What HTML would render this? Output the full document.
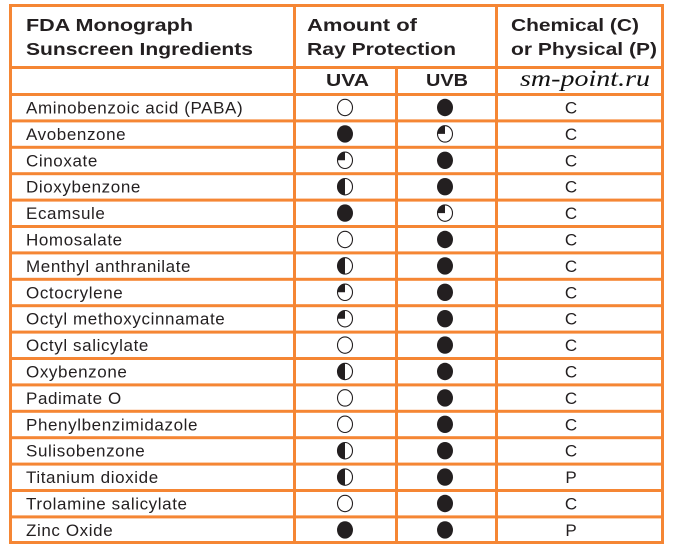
<!DOCTYPE html>
<html><head><meta charset="utf-8"><style>
html,body{margin:0;padding:0;background:#fff;}
svg{display:block;}
.h{font-family:"Liberation Sans",sans-serif;font-weight:bold;font-size:17.5px;fill:#231f20;}
.t{font-family:"Liberation Sans",sans-serif;font-size:17px;letter-spacing:0.6px;fill:#231f20;}
.c{font-family:"Liberation Sans",sans-serif;font-size:17px;fill:#231f20;}
</style></head><body>
<svg width="675" height="552" viewBox="0 0 675 552" xmlns="http://www.w3.org/2000/svg">
<defs>
<g id="e"><ellipse cx="0" cy="0" rx="7.5" ry="8.2" fill="#fff" stroke="#231f20" stroke-width="1.1"/></g>
<g id="f"><ellipse cx="0" cy="0" rx="8" ry="8.7" fill="#231f20"/></g>
<g id="hf"><ellipse cx="0" cy="0" rx="7.5" ry="8.2" fill="#fff" stroke="#231f20" stroke-width="1.1"/><path d="M0,-8.2 A7.5,8.2 0 0 0 0,8.2 Z" fill="#231f20"/></g>
<g id="q"><ellipse cx="0" cy="0" rx="7.5" ry="8.2" fill="#fff" stroke="#231f20" stroke-width="1.1"/><path d="M0,0 L0,-8.2 A7.5,8.2 0 0 0 -7.5,0 Z" fill="#231f20"/></g>
</defs>
<g fill="#f58634">
<rect x="9" y="4" width="655" height="3"/>
<rect x="9" y="66" width="655" height="3"/>
<rect x="9" y="93" width="655" height="3"/>
<rect x="9" y="119.4" width="655" height="3"/>
<rect x="9" y="145.8" width="655" height="3"/>
<rect x="9" y="172.2" width="655" height="3"/>
<rect x="9" y="198.6" width="655" height="3"/>
<rect x="9" y="225" width="655" height="3"/>
<rect x="9" y="251.4" width="655" height="3"/>
<rect x="9" y="277.8" width="655" height="3"/>
<rect x="9" y="304.2" width="655" height="3"/>
<rect x="9" y="330.6" width="655" height="3"/>
<rect x="9" y="357" width="655" height="3"/>
<rect x="9" y="383.4" width="655" height="3"/>
<rect x="9" y="409.8" width="655" height="3"/>
<rect x="9" y="436.2" width="655" height="3"/>
<rect x="9" y="462.6" width="655" height="3"/>
<rect x="9" y="489" width="655" height="3"/>
<rect x="9" y="515.4" width="655" height="3"/>
<rect x="9" y="541" width="655" height="3"/>
<rect x="9" y="4" width="3" height="540"/>
<rect x="661" y="4" width="3" height="540"/>
<rect x="293" y="4" width="3" height="540"/>
<rect x="495" y="4" width="3" height="540"/>
<rect x="395" y="66" width="3" height="478"/>
</g>
<text class="h" x="26" y="31" textLength="167" lengthAdjust="spacingAndGlyphs">FDA Monograph</text>
<text class="h" x="26" y="55" textLength="227" lengthAdjust="spacingAndGlyphs">Sunscreen Ingredients</text>
<text class="h" x="307" y="31" textLength="110" lengthAdjust="spacingAndGlyphs">Amount of</text>
<text class="h" x="307" y="55" textLength="149" lengthAdjust="spacingAndGlyphs">Ray Protection</text>
<text class="h" x="511" y="31" textLength="128" lengthAdjust="spacingAndGlyphs">Chemical (C)</text>
<text class="h" x="511" y="55" textLength="146" lengthAdjust="spacingAndGlyphs">or Physical (P)</text>
<text class="h" x="326" y="86" textLength="43" lengthAdjust="spacingAndGlyphs">UVA</text>
<text class="h" x="426" y="86" textLength="42" lengthAdjust="spacingAndGlyphs">UVB</text>
<text x="520" y="86" textLength="130" lengthAdjust="spacingAndGlyphs" style="font-family:'Liberation Serif',serif;font-style:italic;font-size:23px;fill:#111;">sm-point.ru</text>

<text class="t" x="26" y="113.5">Aminobenzoic acid (PABA)</text>
<text class="t" x="26" y="139.9">Avobenzone</text>
<text class="t" x="26" y="166.3">Cinoxate</text>
<text class="t" x="26" y="192.7">Dioxybenzone</text>
<text class="t" x="26" y="219.1">Ecamsule</text>
<text class="t" x="26" y="245.5">Homosalate</text>
<text class="t" x="26" y="271.9">Menthyl anthranilate</text>
<text class="t" x="26" y="298.3">Octocrylene</text>
<text class="t" x="26" y="324.7">Octyl methoxycinnamate</text>
<text class="t" x="26" y="351.1">Octyl salicylate</text>
<text class="t" x="26" y="377.5">Oxybenzone</text>
<text class="t" x="26" y="403.9">Padimate O</text>
<text class="t" x="26" y="430.3">Phenylbenzimidazole</text>
<text class="t" x="26" y="456.7">Sulisobenzone</text>
<text class="t" x="26" y="483.1">Titanium dioxide</text>
<text class="t" x="26" y="509.5">Trolamine salicylate</text>
<text class="t" x="26" y="535.9">Zinc Oxide</text>

<g class="c" text-anchor="middle">
<text class="c" x="571" y="113.5">C</text>
<text class="c" x="571" y="139.9">C</text>
<text class="c" x="571" y="166.3">C</text>
<text class="c" x="571" y="192.7">C</text>
<text class="c" x="571" y="219.1">C</text>
<text class="c" x="571" y="245.5">C</text>
<text class="c" x="571" y="271.9">C</text>
<text class="c" x="571" y="298.3">C</text>
<text class="c" x="571" y="324.7">C</text>
<text class="c" x="571" y="351.1">C</text>
<text class="c" x="571" y="377.5">C</text>
<text class="c" x="571" y="403.9">C</text>
<text class="c" x="571" y="430.3">C</text>
<text class="c" x="571" y="456.7">C</text>
<text class="c" x="571" y="483.1">P</text>
<text class="c" x="571" y="509.5">C</text>
<text class="c" x="571" y="535.9">P</text>
</g>

<use href="#e" transform="translate(345,107.5)"/><use href="#f" transform="translate(445,107.5)"/>
<use href="#f" transform="translate(345,133.9)"/><use href="#q" transform="translate(445,133.9)"/>
<use href="#q" transform="translate(345,160.3)"/><use href="#f" transform="translate(445,160.3)"/>
<use href="#hf" transform="translate(345,186.7)"/><use href="#f" transform="translate(445,186.7)"/>
<use href="#f" transform="translate(345,213.1)"/><use href="#q" transform="translate(445,213.1)"/>
<use href="#e" transform="translate(345,239.5)"/><use href="#f" transform="translate(445,239.5)"/>
<use href="#hf" transform="translate(345,265.9)"/><use href="#f" transform="translate(445,265.9)"/>
<use href="#q" transform="translate(345,292.3)"/><use href="#f" transform="translate(445,292.3)"/>
<use href="#q" transform="translate(345,318.7)"/><use href="#f" transform="translate(445,318.7)"/>
<use href="#e" transform="translate(345,345.1)"/><use href="#f" transform="translate(445,345.1)"/>
<use href="#hf" transform="translate(345,371.5)"/><use href="#f" transform="translate(445,371.5)"/>
<use href="#e" transform="translate(345,397.9)"/><use href="#f" transform="translate(445,397.9)"/>
<use href="#e" transform="translate(345,424.3)"/><use href="#f" transform="translate(445,424.3)"/>
<use href="#hf" transform="translate(345,450.7)"/><use href="#f" transform="translate(445,450.7)"/>
<use href="#hf" transform="translate(345,477.1)"/><use href="#f" transform="translate(445,477.1)"/>
<use href="#e" transform="translate(345,503.5)"/><use href="#f" transform="translate(445,503.5)"/>
<use href="#f" transform="translate(345,529.9)"/><use href="#f" transform="translate(445,529.9)"/>
</svg>
</body></html>
